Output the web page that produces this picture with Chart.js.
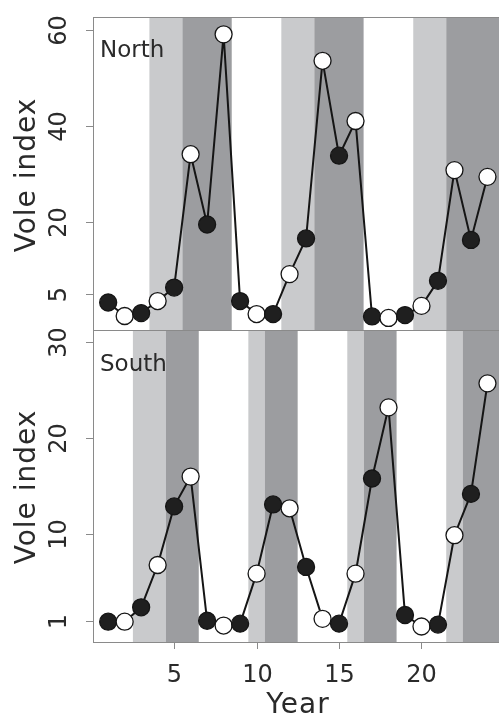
<!DOCTYPE html>
<html>
<head>
<meta charset="utf-8">
<title>Vole index, North and South</title>
<script src="https://cdn.jsdelivr.net/npm/chart.js@4.4.1/dist/chart.umd.min.js"></script>
<style>
  html, body { margin: 0; padding: 0; background: #fff; overflow: hidden; }
  #wrap { position: relative; width: 499px; height: 715px; }
  canvas { position: absolute; left: 0; }
  #north { top: 0; }
  #south { top: 329px; }
</style>
</head>
<body>
<div id="wrap">
  <canvas id="north" width="499" height="331"></canvas>
  <canvas id="south" width="499" height="386"></canvas>
</div>
<script>
// Half-year sampling occasions
const years = [1, 2, 3, 4, 5, 6, 7, 8, 9, 10, 11, 12, 13, 14, 15, 16, 17, 18, 19, 20, 21, 22, 23, 24];

// Vole abundance index per occasion
const northIndex = [3.3, 0.5, 1.1, 3.6, 6.4, 34.1, 19.5, 59.0, 3.6, 0.9, 0.9, 9.2,
                    16.6, 53.5, 33.8, 41.0, 0.4, 0.1, 0.7, 2.6, 7.8, 30.8, 16.3, 29.4];
const southIndex = [0.9, 0.9, 2.4, 6.8, 12.9, 16.0, 1.0, 0.5, 0.7, 5.9, 13.1, 12.7,
                    6.6, 1.2, 0.7, 5.9, 15.8, 23.2, 1.6, 0.4, 0.6, 9.9, 14.2, 25.7];

// Tick labels
const northTicks = [5, 20, 40, 60];
const southTicks = [1, 10, 20, 30];
const yearTicks = [5, 10, 15, 20];

// Cycle phase bands: edges along the year axis and the phase of each span
const northEdges = [3.5, 5.5, 8.5, 11.5, 13.5, 16.5, 19.5, 21.5];
const northPhases = ['low', 'increase', 'peak', 'low', 'increase', 'peak', 'low', 'increase', 'peak'];
const southEdges = [2.5, 4.5, 6.5, 9.5, 10.5, 12.5, 15.5, 16.5, 18.5, 21.5, 22.5];
const southPhases = ['low', 'increase', 'peak', 'low', 'increase', 'peak', 'low', 'increase', 'peak',
                     'low', 'increase', 'peak'];

const phaseColour = { low: '#ffffff', increase: '#c9cacc', peak: '#9c9da0' };
const frameColour = '#8a8a8a';
const inkColour = '#2a2a2a';
const FONT = '"DejaVu Sans", sans-serif';

function pointStyle(values) {
  return {
    data: years.map((x, i) => ({ x: x, y: values[i] })),
    borderColor: '#151515',
    borderWidth: 2,
    tension: 0,
    pointRadius: 8.5,
    pointHoverRadius: 8.5,
    pointBorderWidth: 1.3,
    pointBorderColor: '#151515',
    pointBackgroundColor: years.map((x, i) => (i % 2 === 0 ? '#1f1f1f' : '#ffffff')),
    clip: false
  };
}

// Draws phase bands, frame, ticks and labels for one panel
function panelPlugin(cfg) {
  return {
    id: 'panel_' + cfg.name,
    beforeDatasetsDraw(chart) {
      const ctx = chart.ctx;
      const area = chart.chartArea;
      const xs = chart.scales.x;
      const ys = chart.scales.y;
      const bounds = [xs.min].concat(cfg.edges, [xs.max]);
      ctx.save();
      for (let i = 0; i < cfg.phases.length; i++) {
        const x0 = Math.max(area.left, xs.getPixelForValue(bounds[i]));
        const x1 = Math.min(area.right, xs.getPixelForValue(bounds[i + 1]));
        ctx.fillStyle = phaseColour[cfg.phases[i]];
        ctx.fillRect(x0, area.top, x1 - x0, area.bottom - area.top);
      }

      // frame
      ctx.strokeStyle = frameColour;
      ctx.lineWidth = 1;
      ctx.beginPath();
      ctx.moveTo(area.left + 0.5, area.top);
      ctx.lineTo(area.left + 0.5, area.bottom);
      ctx.moveTo(area.left, area.top + 0.5);
      ctx.lineTo(area.right, area.top + 0.5);
      if (cfg.xTicks) {
        ctx.moveTo(area.left, area.bottom + 0.5);
        ctx.lineTo(area.right, area.bottom + 0.5);
      }
      ctx.stroke();

      // y ticks and rotated labels
      ctx.fillStyle = inkColour;
      ctx.font = '24px ' + FONT;
      ctx.textAlign = 'center';
      ctx.textBaseline = 'alphabetic';
      cfg.yTicks.forEach(v => {
        const py = Math.round(ys.getPixelForValue(v)) + 0.5;
        ctx.beginPath();
        ctx.moveTo(area.left - 7, py);
        ctx.lineTo(area.left, py);
        ctx.stroke();
        ctx.save();
        ctx.translate(66, py);
        ctx.rotate(-Math.PI / 2);
        ctx.fillText(String(v), 0, 0);
        ctx.restore();
      });

      // axis title
      ctx.font = '28px ' + FONT;
      ctx.save();
      ctx.letterSpacing = '1px';
      ctx.translate(35, (area.top + area.bottom) / 2 + cfg.titleShift);
      ctx.rotate(-Math.PI / 2);
      ctx.fillText('Vole index', 0, 0);
      ctx.restore();

      // x ticks and labels
      if (cfg.xTicks) {
        ctx.font = '24px ' + FONT;
        cfg.xTicks.forEach(v => {
          const px = Math.round(xs.getPixelForValue(v)) + 0.5;
          ctx.beginPath();
          ctx.moveTo(px, area.bottom);
          ctx.lineTo(px, area.bottom + 7);
          ctx.stroke();
          ctx.fillText(String(v), px, area.bottom + 40);
        });
        ctx.font = '28px ' + FONT;
        ctx.save();
        ctx.letterSpacing = '1px';
        ctx.fillText('Year', 298, area.bottom + 71);
        ctx.restore();
      }

      // panel name
      ctx.font = '23px ' + FONT;
      ctx.textAlign = 'left';
      ctx.fillText(cfg.name, 100, area.top + cfg.nameBaseline);
      ctx.restore();
    }
  };
}

function makePanel(canvasId, values, opts) {
  return new Chart(document.getElementById(canvasId), {
    type: 'line',
    data: { datasets: [pointStyle(values)] },
    options: {
      responsive: false,
      animation: false,
      devicePixelRatio: 1,
      events: [],
      layout: { autoPadding: false, padding: opts.padding },
      plugins: { legend: { display: false }, tooltip: { enabled: false } },
      scales: {
        x: { type: 'linear', min: 0.08, max: 24.7, display: false },
        y: { type: 'linear', min: opts.yMin, max: opts.yMax, display: false }
      }
    },
    plugins: [panelPlugin(opts.panel)]
  });
}

makePanel('north', northIndex, {
  padding: { left: 93, top: 17, right: 0, bottom: 1 },
  yMin: -2.41, yMax: 62.6,
  panel: { name: 'North', edges: northEdges, phases: northPhases, yTicks: northTicks,
           xTicks: null, titleShift: 1.5, nameBaseline: 40 }
});

makePanel('south', southIndex, {
  padding: { left: 93, top: 1, right: 0, bottom: 73 },
  yMin: -1.21, yMax: 31.25,
  panel: { name: 'South', edges: southEdges, phases: southPhases, yTicks: southTicks,
           xTicks: yearTicks, titleShift: 1, nameBaseline: 41 }
});
</script>
</body>
</html>
